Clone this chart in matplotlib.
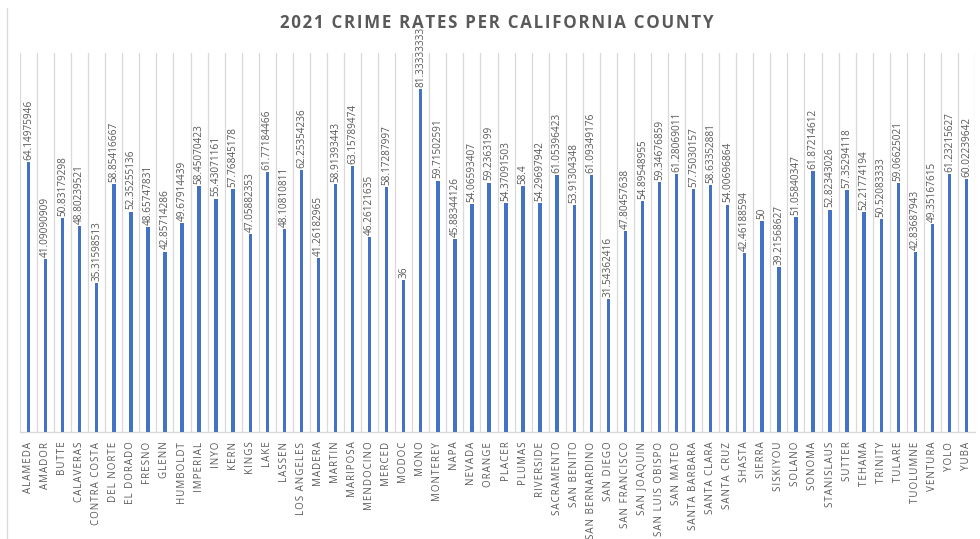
import matplotlib
matplotlib.use("Agg")
import matplotlib.pyplot as plt
import numpy as np

counties = ["ALAMEDA", "AMADOR", "BUTTE", "CALAVERAS", "CONTRA COSTA", "DEL NORTE",
            "EL DORADO", "FRESNO", "GLENN", "HUMBOLDT", "IMPERIAL", "INYO", "KERN",
            "KINGS", "LAKE", "LASSEN", "LOS ANGELES", "MADERA", "MARTIN", "MARIPOSA",
            "MENDOCINO", "MERCED", "MODOC", "MONO", "MONTEREY", "NAPA", "NEVADA",
            "ORANGE", "PLACER", "PLUMAS", "RIVERSIDE", "SACRAMENTO", "SAN BENITO",
            "SAN BERNARDINO", "SAN DIEGO", "SAN FRANCISCO", "SAN JOAQUIN",
            "SAN LUIS OBISPO", "SAN MATEO", "SANTA BARBARA", "SANTA CLARA",
            "SANTA CRUZ", "SHASTA", "SIERRA", "SISKIYOU", "SOLANO", "SONOMA",
            "STANISLAUS", "SUTTER", "TEHAMA", "TRINITY", "TULARE", "TUOLUMNE",
            "VENTURA", "YOLO", "YUBA"]
rates = [64.14975946, 41.09090909, 50.83179298, 48.80239521, 35.31598513, 58.85416667,
         52.35255136, 48.65747831, 42.85714286, 49.67914439, 58.45070423, 55.43071161,
         57.76845178, 47.05882353, 61.77184466, 48.10810811, 62.25354236, 41.26182965,
         58.91393443, 63.15789474, 46.26121635, 58.17287997, 36, 81.33333333,
         59.71502591, 45.88344126, 54.06593407, 59.2363199, 54.37091503, 58.4,
         54.29697942, 61.05396423, 53.91304348, 61.09349176, 31.54362416, 47.80457638,
         54.89548955, 59.34676859, 61.28069011, 57.75030157, 58.63352881, 54.00696864,
         42.46188594, 50, 39.21568627, 51.05840347, 61.87214612, 52.82343026,
         57.35294118, 52.21774194, 50.52083333, 59.06625021, 42.83687943, 49.35167615,
         61.23215627, 60.02239642]
value_labels = ["64.14975946", "41.09090909", "50.83179298", "48.80239521", "35.31598513",
                "58.85416667", "52.35255136", "48.65747831", "42.85714286", "49.67914439",
                "58.45070423", "55.43071161", "57.76845178", "47.05882353", "61.77184466",
                "48.10810811", "62.25354236", "41.26182965", "58.91393443", "63.15789474",
                "46.26121635", "58.17287997", "36", "81.33333333", "59.71502591",
                "45.88344126", "54.06593407", "59.2363199", "54.37091503", "58.4",
                "54.29697942", "61.05396423", "53.91304348", "61.09349176", "31.54362416",
                "47.80457638", "54.89548955", "59.34676859", "61.28069011", "57.75030157",
                "58.63352881", "54.00696864", "42.46188594", "50", "39.21568627",
                "51.05840347", "61.87214612", "52.82343026", "57.35294118", "52.21774194",
                "50.52083333", "59.06625021", "42.83687943", "49.35167615", "61.23215627",
                "60.02239642"]
title = "2021 CRIME RATES PER CALIFORNIA COUNTY"

def spaced(s, sep="\u200a"):
    return sep.join(list(s))

plt.rcParams["font.family"] = ["Open Sans", "DejaVu Sans"]

fig = plt.figure(figsize=(9.8, 5.39), dpi=100)
ax = fig.add_axes([20/980, 1-432/539, 955/980, 379/539])

x = np.arange(len(counties))
bar_color = "#4472C4"
text_color = "#595959"
grid_color = "#D9D9D9"

ymax = 90
ax.bar(x, rates, width=0.2, color=bar_color, zorder=3)
for xi, v, lab in zip(x, rates, value_labels):
    ax.text(xi, v + 0.5, lab, rotation=90, ha="center", va="bottom",
            fontsize=7.2, color=text_color, zorder=4)

# category boundary gridlines
for b in np.arange(len(counties) + 1) - 0.5:
    ax.axvline(b, color=grid_color, lw=0.9, zorder=1)

ax.set_xlim(-0.5, len(counties) - 0.5)
ax.set_ylim(0, ymax)
ax.set_yticks([])
ax.set_xticks(x)
ax.set_xticklabels([spaced(c) for c in counties], rotation=90, fontsize=7.0,
                   color=text_color)
ax.tick_params(axis="x", length=0, pad=7)
for s in ["top", "right", "left"]:
    ax.spines[s].set_visible(False)
ax.spines["bottom"].set_color(grid_color)
ax.spines["bottom"].set_linewidth(1)
ax.spines["bottom"].set_zorder(2)

fig.text(497/980, 1-23/539, spaced(title, "\u200a"), ha="center", va="center",
         fontsize=12.2, fontweight="bold", color=text_color, zorder=5)

# chart frame left edge
fig.add_artist(plt.Line2D([7/980, 7/980], [0, 1-8/539], color=grid_color, lw=0.9,
                          transform=fig.transFigure))

fig.savefig("out.png", dpi=100, facecolor="white")
